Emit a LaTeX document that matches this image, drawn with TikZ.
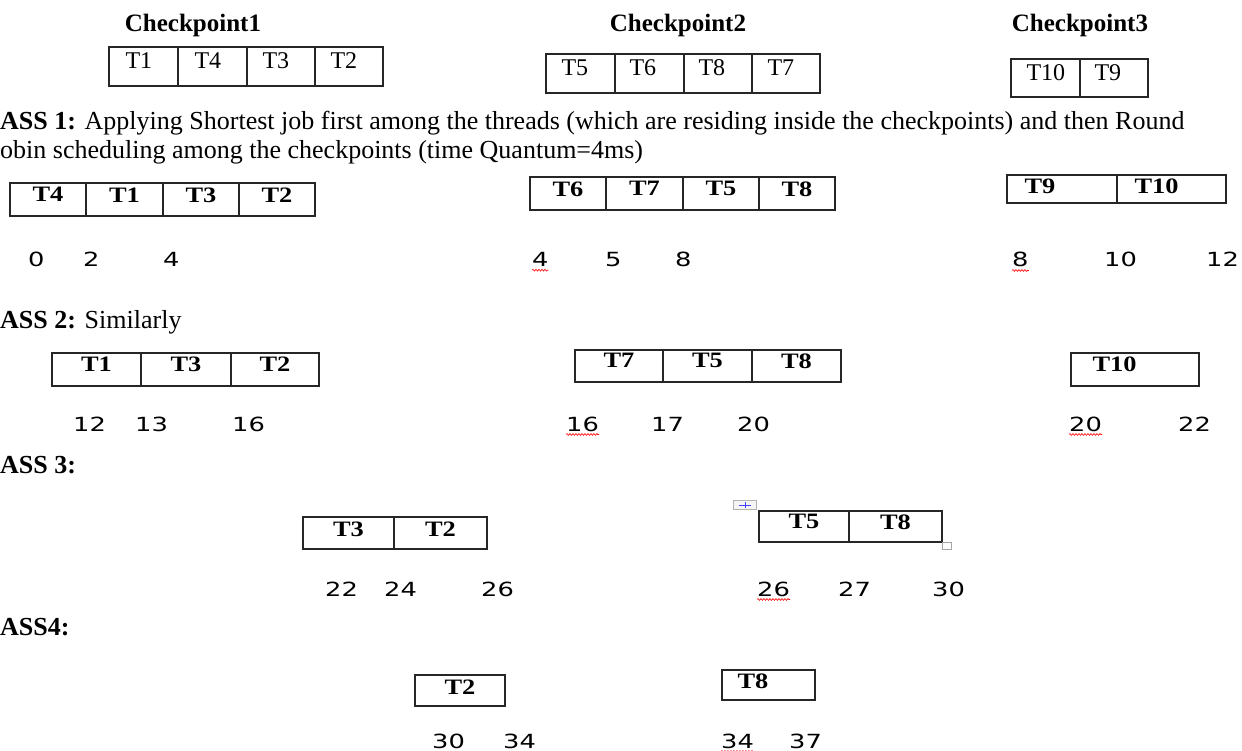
\documentclass[tikz,border=0pt]{standalone}
\usepackage{fontspec}
\setmainfont{Liberation Serif}
\newfontfamily\numfont[FakeStretch=1.32]{DejaVu Sans}
\newfontfamily\labfont[FakeStretch=1.2]{Liberation Serif}
\usetikzlibrary{fit,decorations.pathmorphing}
\begin{document}
\begin{tikzpicture}[x=1pt,y=-1pt,
  cell/.style={draw=black!85, line width=1.4pt, inner sep=0pt},
  tlab/.style={inner sep=0pt, anchor=north west, font=\fontsize{24}{24}\selectfont},
  blab/.style={inner sep=0pt, anchor=north, font=\labfont\bfseries\fontsize{22}{22}\selectfont},
  blabw/.style={inner sep=0pt, anchor=north west, font=\labfont\bfseries\fontsize{22}{22}\selectfont},
  num/.style={inner sep=0pt, anchor=base west, font=\numfont\fontsize{19.5}{19.5}\selectfont},
  head/.style={inner sep=0pt, anchor=base west, font=\fontsize{26}{30}\selectfont},
  ctitle/.style={inner sep=0pt, anchor=base, font=\bfseries\fontsize{25}{25}\selectfont},
  spell/.style={draw=red, line width=0.6pt, decorate, decoration={snake, amplitude=0.9pt, segment length=3pt}}]
\useasboundingbox[fill=white] (0,0) rectangle (1242,751);

% ---- checkpoints ----
\node[ctitle] (cp1) at (193,32) {Checkpoint1};
\node[ctitle] (cp2) at (678,32) {Checkpoint2};
\node[ctitle] (cp3) at (1080,32) {Checkpoint3};

\node[cell, fit={(109,47) (178,86)}] (a1) {};
\node[cell, fit={(178,47) (247,86)}] (a2) {};
\node[cell, fit={(247,47) (315,86)}] (a3) {};
\node[cell, fit={(315,47) (383,86)}] (a4) {};
\node[tlab] (a1t) at ([xshift=17pt,yshift=-6pt]a1.north west) {T1};
\node[tlab] (a2t) at ([xshift=17pt,yshift=-6pt]a2.north west) {T4};
\node[tlab] (a3t) at ([xshift=16pt,yshift=-6pt]a3.north west) {T3};
\node[tlab] (a4t) at ([xshift=16pt,yshift=-6pt]a4.north west) {T2};

\node[cell, fit={(546,54) (615,93)}] (b1) {};
\node[cell, fit={(615,54) (684,93)}] (b2) {};
\node[cell, fit={(684,54) (752,93)}] (b3) {};
\node[cell, fit={(752,54) (820,93)}] (b4) {};
\node[tlab] (b1t) at ([xshift=16pt,yshift=-6pt]b1.north west) {T5};
\node[tlab] (b2t) at ([xshift=15pt,yshift=-6pt]b2.north west) {T6};
\node[tlab] (b3t) at ([xshift=15pt,yshift=-6pt]b3.north west) {T8};
\node[tlab] (b4t) at ([xshift=16pt,yshift=-6pt]b4.north west) {T7};

\node[cell, fit={(1011,59) (1080,97)}] (c1) {};
\node[cell, fit={(1080,59) (1148,97)}] (c2) {};
\node[tlab] (c1t) at ([xshift=16pt,yshift=-6pt]c1.north west) {T10};
\node[tlab] (c2t) at ([xshift=15pt,yshift=-6pt]c2.north west) {T9};

% ---- PASS 1 ----
\node[head] (p1a) at (0,130) {\textbf{ASS 1:} Applying Shortest job first among the threads (which are residing inside the checkpoints) and then Round};
\node[head] (p1b) at (0,159) {obin scheduling among the checkpoints (time Quantum=4ms)};

\node[cell, fit={(10,183) (86,216)}] (d1) {};
\node[cell, fit={(86,183) (163,216)}] (d2) {};
\node[cell, fit={(163,183) (239,216)}] (d3) {};
\node[cell, fit={(239,183) (315,216)}] (d4) {};
\node[blab] (d1t) at ([yshift=-5pt]d1.north) {T4};
\node[blab] (d2t) at ([yshift=-5pt]d2.north) {T1};
\node[blab] (d3t) at ([yshift=-5pt]d3.north) {T3};
\node[blab] (d4t) at ([yshift=-5pt]d4.north) {T2};

\node[cell, fit={(530,177) (606,210)}] (e1) {};
\node[cell, fit={(606,177) (683,210)}] (e2) {};
\node[cell, fit={(683,177) (759,210)}] (e3) {};
\node[cell, fit={(759,177) (835,210)}] (e4) {};
\node[blab] (e1t) at ([yshift=-5pt]e1.north) {T6};
\node[blab] (e2t) at ([yshift=-5pt]e2.north) {T7};
\node[blab] (e3t) at ([yshift=-5pt]e3.north) {T5};
\node[blab] (e4t) at ([yshift=-5pt]e4.north) {T8};

\node[cell, fit={(1007,175) (1117,203)}] (f1) {};
\node[cell, fit={(1117,175) (1226,203)}] (f2) {};
\node[blabw] (f1t) at ([xshift=18pt,yshift=-4pt]f1.north west) {T9};
\node[blabw] (f2t) at ([xshift=18pt,yshift=-4pt]f2.north west) {T10};

\node[num] (n1a) at (28,267) {0};
\node[num] (n1b) at (83,267) {2};
\node[num] (n1c) at (163,267) {4};
\node[num] (n1d) at (532,267) {4};
\node[num] (n1e) at (605,267) {5};
\node[num] (n1f) at (675,267) {8};
\node[num] (n1g) at (1012,267) {8};
\node[num] (n1h) at (1104,267) {10};
\node[num] (n1i) at (1206,267) {12};

% ---- PASS 2 ----
\node[head] (p2) at (0,328) {\textbf{ASS 2:} Similarly};

\node[cell, fit={(52,353) (141,386)}] (g1) {};
\node[cell, fit={(141,353) (231,386)}] (g2) {};
\node[cell, fit={(231,353) (319,386)}] (g3) {};
\node[blab] (g1t) at ([yshift=-4pt]g1.north) {T1};
\node[blab] (g2t) at ([yshift=-4pt]g2.north) {T3};
\node[blab] (g3t) at ([yshift=-4pt]g3.north) {T2};

\node[cell, fit={(575,350) (663,382)}] (h1) {};
\node[cell, fit={(663,350) (752,382)}] (h2) {};
\node[cell, fit={(752,350) (841,382)}] (h3) {};
\node[blab] (h1t) at ([yshift=-4pt]h1.north) {T7};
\node[blab] (h2t) at ([yshift=-4pt]h2.north) {T5};
\node[blab] (h3t) at ([yshift=-4pt]h3.north) {T8};

\node[cell, fit={(1071,353) (1199,386)}] (i1) {};
\node[blabw] (i1t) at ([xshift=22pt,yshift=-4pt]i1.north west) {T10};

\node[num] (n2a) at (73,431) {12};
\node[num] (n2b) at (135,431) {13};
\node[num] (n2c) at (232,431) {16};
\node[num] (n2d) at (566,431) {16};
\node[num] (n2e) at (651,431) {17};
\node[num] (n2f) at (737,431) {20};
\node[num] (n2g) at (1069,431) {20};
\node[num] (n2h) at (1178,431) {22};

% ---- PASS 3 ----
\node[head] (p3) at (0,473) {\textbf{ASS 3:}};

\node[cell, fit={(303,517) (394,549)}] (j1) {};
\node[cell, fit={(394,517) (487,549)}] (j2) {};
\node[blab] (j1t) at ([yshift=-5pt]j1.north) {T3};
\node[blab] (j2t) at ([yshift=-5pt]j2.north) {T2};

\node[cell, fit={(759,511) (849,542)}] (k1) {};
\node[cell, fit={(849,511) (942,542)}] (k2) {};
\node[blab] (k1t) at ([yshift=-4pt]k1.north) {T5};
\node[blab] (k2t) at ([yshift=-4pt]k2.north) {T8};
\node[draw=gray!60, fill=gray!8, line width=0.8pt, minimum width=23pt, minimum height=9pt, inner sep=0pt] (hd) at (745,505) {};
\draw[blue!75, line width=0.7pt] ([xshift=-6pt]hd.center) -- ([xshift=6pt]hd.center);
\draw[blue!75, line width=0.7pt] ([yshift=-3pt]hd.center) -- ([yshift=3pt]hd.center);
\node[draw=gray!70, fill=white, line width=0.8pt, minimum width=9pt, minimum height=7pt, inner sep=0pt] (hs) at (947,546) {};

\node[num] (n3a) at (325,596) {22};
\node[num] (n3b) at (384,596) {24};
\node[num] (n3c) at (481,596) {26};
\node[num] (n3d) at (757,596) {26};
\node[num] (n3e) at (838,596) {27};
\node[num] (n3f) at (932,596) {30};

% ---- PASS 4 ----
\node[head] (p4) at (0,635) {\textbf{ASS4:}};

\node[cell, fit={(415,675) (505,706)}] (l1) {};
\node[blab] (l1t) at ([yshift=-5pt]l1.north) {T2};
\node[cell, fit={(722,670) (815,700)}] (m1) {};
\node[blabw] (m1t) at ([xshift=16pt,yshift=-4pt]m1.north west) {T8};

\node[num] (n4a) at (432,748) {30};
\node[num] (n4b) at (503,748) {34};
\node[num] (n4c) at (721,748) {34};
\node[num] (n4d) at (789,748) {37};

% ---- spell-check marks ----
\foreach \n in {n1d,n1g,n2d,n2g,n3d,n4c}
  \draw[spell] ([yshift=-3pt]\n.south west) -- ([yshift=-3pt]\n.south east);
\end{tikzpicture}
\end{document}
